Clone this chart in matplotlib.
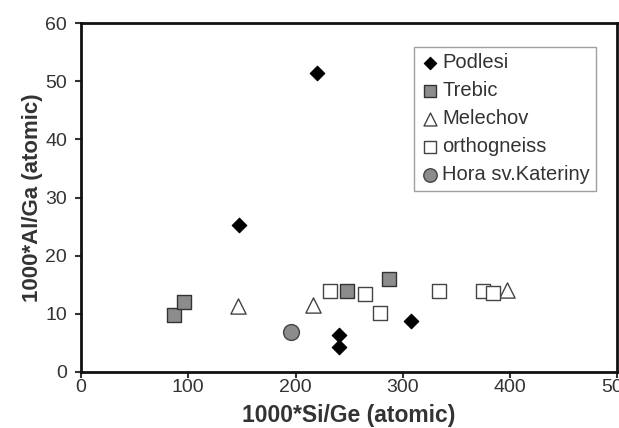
import matplotlib.pyplot as plt

plt.rcParams['font.family'] = ['Liberation Sans', 'DejaVu Sans']

# values
podlesi_x = [220, 147, 241, 241, 308]
podlesi_y = [51.4, 25.3, 6.4, 4.3, 8.7]
trebic_x = [87, 96, 248, 287]
trebic_y = [9.8, 12.0, 14.0, 15.9]
melechov_x = [146, 216, 397]
melechov_y = [11.3, 11.5, 14.1]
ortho_x = [232, 265, 279, 334, 375, 384]
ortho_y = [13.9, 13.4, 10.1, 13.9, 13.9, 13.5]
hora_x = [196]
hora_y = [6.8]

fig = plt.figure(figsize=(6.19, 4.28), dpi=100)
ax = fig.add_axes([0.131, 0.131, 0.866, 0.815])

txt = '#333333'
ax.scatter(podlesi_x, podlesi_y, marker='D', s=55, c='black', edgecolors='black',
           linewidths=0.8, label='Podlesi', zorder=3)
ax.scatter(trebic_x, trebic_y, marker='s', s=90, c='#8c8c8c', edgecolors='#333333',
           linewidths=1.0, label='Trebic', zorder=3)
ax.scatter(melechov_x, melechov_y, marker='^', s=120, c='white', edgecolors='#444444',
           linewidths=1.0, label='Melechov', zorder=3)
ax.scatter(ortho_x, ortho_y, marker='s', s=90, c='white', edgecolors='#444444',
           linewidths=1.0, label='orthogneiss', zorder=3)
ax.scatter(hora_x, hora_y, marker='o', s=130, c='#8c8c8c', edgecolors='#444444',
           linewidths=1.0, label='Hora sv.Kateriny', zorder=3)

ax.set_xlim(0, 500)
ax.set_ylim(0, 60)
ax.set_xticks(range(0, 501, 100))
ax.set_yticks(range(0, 61, 10))
ax.tick_params(direction='out', length=4, width=1.5, labelsize=14, colors=txt,
               top=False, right=False)
ax.tick_params(axis='x', pad=1)
ax.tick_params(axis='y', pad=6)
for s in ax.spines.values():
    s.set_linewidth(2)
    s.set_color('#111111')

ax.set_xlabel('1000*Si/Ge (atomic)', fontsize=16.5, fontweight='bold', color=txt, labelpad=6)
ax.set_ylabel('1000*Al/Ga (atomic)', fontsize=16, fontweight='bold', color=txt, labelpad=2)

leg = ax.legend(loc='upper right', bbox_to_anchor=(0.961, 0.931), fontsize=14.5,
                frameon=True, fancybox=False, handletextpad=0.1, handlelength=1.0,
                borderpad=0.3, labelspacing=0.45, borderaxespad=0, markerscale=0.85)
leg.get_frame().set_edgecolor('#888888')
leg.get_frame().set_linewidth(1.0)
for t in leg.get_texts():
    t.set_color(txt)

fig.savefig('out.png', dpi=100)
